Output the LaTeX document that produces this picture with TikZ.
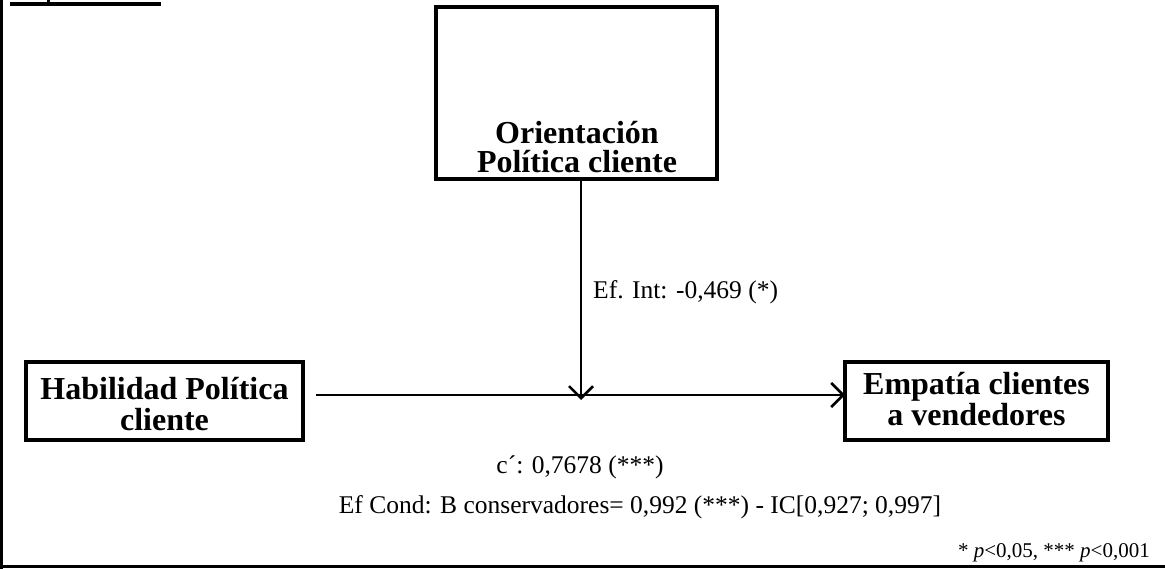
\documentclass[tikz,border=0pt]{standalone}
\usepackage{fontspec}
\setmainfont{Liberation Serif}
\usetikzlibrary{arrows.meta}
\tikzset{
  varbox/.style={draw, line width=3.5pt, inner sep=0pt},
  vartext/.style={font=\fontsize{32}{31}\selectfont\bfseries, align=center, inner sep=0pt},
  link/.style={line width=2.7pt, -{Straight Barb[length=12pt,width=24pt,line width=2.5pt]}},
  lbl/.style={font=\fontsize{25.5}{28}\selectfont, inner sep=0pt},
}
\begin{document}
\begin{tikzpicture}[x=1pt,y=-1pt]
\useasboundingbox (0,0) rectangle (1165,569);
% page frame pieces
\draw[line width=2.8pt] (1.5,0) -- (1.5,569);
\draw[line width=2.8pt] (0,566.5) -- (1165,566.5);
\fill (10,2) rectangle (161,6);
\fill (47,0) rectangle (50,2);
% variables
\node[varbox, minimum width=281pt, minimum height=172pt] (mod) at (576.5,93) {};
\node[vartext, font=\fontsize{32}{29}\selectfont\bfseries] (modtxt) at (577,147) {Orientación\\Política cliente};
\node[varbox, minimum width=277pt, minimum height=78pt] (x) at (164.5,401) {};
\node[vartext] (xtxt) at (164.5,404) {Habilidad Política\\cliente};
\node[varbox, minimum width=263pt, minimum height=78pt] (y) at (976.5,401) {};
\node[vartext] (ytxt) at (976.5,399) {Empatía clientes\\a vendedores};
% paths
\coordinate (xs) at (316,395);
\coordinate (mid) at (581,395);
\coordinate (ye) at (845,395);
\draw[line width=2.7pt] (xs) -- (mid);
\draw[link] (mid) -- (ye);
\draw[link] (mod.south -| mid) -- ([yshift=-5pt]mid);
% labels
\node[lbl, anchor=west] (lint) at (593,292) {Ef. Int: -0,469 (*)};
\node[lbl] (lc) at (580,467) {c\textasciiacute: 0,7678 (***)};
\node[lbl] (lcond) at (640,507) {Ef Cond: B conservadores= 0,992 (***) - IC[0,927; 0,997]};
\node[font=\fontsize{21}{24}\selectfont, anchor=east, inner sep=0pt] (pv) at (1150,553) {* \textit{p}<0,05, *** \textit{p}<0,001};
\end{tikzpicture}
\end{document}
